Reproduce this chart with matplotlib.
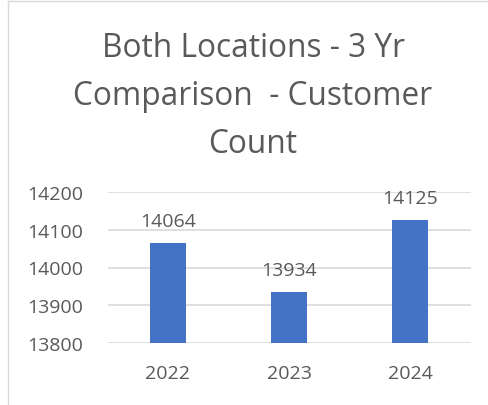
import matplotlib.pyplot as plt
from matplotlib.lines import Line2D

years = ['2022', '2023', '2024']
customers = [14064, 13934, 14125]
yticks = [13800, 13900, 14000, 14100, 14200]
title_lines = ['Both Locations - 3 Yr', 'Comparison  - Customer', 'Count']

text_color = '#595959'
grid_color = '#D9D9D9'
bar_color = '#4472C4'

plt.rcParams['font.family'] = ['Open Sans', 'DejaVu Sans']

W, H = 488, 406
fig = plt.figure(figsize=(W / 100, H / 100), dpi=100)
fig.patch.set_facecolor('white')

# chart frame (only top and left edges are visible in the crop)
fig.add_artist(Line2D([7.5 / W, 7.5 / W], [0, 1 - 2 / H], transform=fig.transFigure,
                      color=grid_color, lw=1))
fig.add_artist(Line2D([7.5 / W, 1], [1 - 2 / H, 1 - 2 / H], transform=fig.transFigure,
                      color=grid_color, lw=1))

ax = fig.add_axes([107.5 / W, 1 - 344 / H, 363 / W, 151 / H])
x = range(len(years))
bars = ax.bar(x, [v - yticks[0] for v in customers], bottom=yticks[0],
              width=0.305, color=bar_color, zorder=3)

for xi, v in zip(x, customers):
    ax.annotate(str(v), (xi, v), xytext=(0, 12.3), textcoords='offset points',
                ha='center', va='baseline', fontsize=14, color=text_color,
                annotation_clip=False)

ax.set_xlim(-0.5, len(years) - 0.5)
ax.set_ylim(yticks[0], yticks[-1])
ax.set_yticks(yticks)
ax.set_xticks(list(x))
ax.set_xticklabels(years)
ax.tick_params(axis='both', length=0, labelsize=14, labelcolor=text_color)
ax.tick_params(axis='y', pad=17.5)
ax.tick_params(axis='x', pad=15)
ax.grid(axis='y', color=grid_color, lw=1.2, zorder=0)
for s in ax.spines.values():
    s.set_visible(False)
ax.set_facecolor('none')

for i, line in enumerate(title_lines):
    fig.text(253 / W, 1 - (57 + 48 * i) / H, line, ha='center', va='baseline',
             fontsize=22.8, color=text_color)

fig.savefig('out.png', dpi=100, facecolor='white')
